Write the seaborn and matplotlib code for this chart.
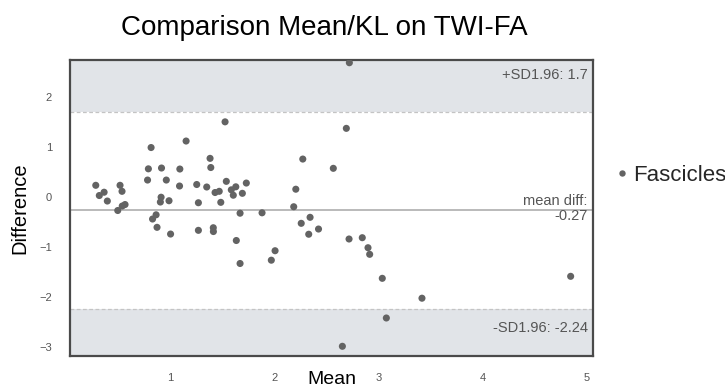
import matplotlib
matplotlib.use("Agg")
import matplotlib.pyplot as plt
import seaborn as sns
import pandas as pd

# Bland-Altman data
mean_vals = [0.287, 0.321, 0.367, 0.398, 0.520, 0.539, 0.498, 0.541, 0.568,
             0.818, 0.792, 0.784, 0.918, 0.964, 0.914, 0.907, 0.990, 1.154,
             1.094, 1.091, 1.256, 1.272, 0.866, 0.832, 0.875, 1.005, 1.272,
             1.528, 1.384, 1.391, 1.352, 1.432, 1.472, 1.540, 1.588, 1.631,
             1.607, 1.694, 1.732, 1.487, 1.672, 1.883, 1.415, 1.416, 1.636,
             1.672, 2.008, 1.972, 2.274, 2.207, 2.187, 2.259, 2.344, 2.331,
             2.425, 2.721, 2.692, 2.567, 2.718, 2.845, 2.900, 2.916, 3.037,
             3.418, 3.076, 2.654, 4.845]
diff_vals = [0.228, 0.024, 0.090, -0.086, 0.228, 0.108, -0.275, -0.186, -0.156,
             0.982, 0.557, 0.333, 0.573, 0.333, -0.010, -0.106, -0.080, 1.112,
             0.553, 0.214, 0.244, -0.120, -0.361, -0.445, -0.611, -0.745, -0.671,
             1.495, 0.766, 0.583, 0.194, 0.084, 0.108, 0.307, 0.138, 0.198,
             0.030, 0.068, 0.273, -0.112, -0.329, -0.321, -0.619, -0.695, -0.874,
             -1.333, -1.078, -1.267, 0.752, 0.150, -0.200, -0.531, -0.411, -0.749,
             -0.645, 2.675, 1.365, 0.567, -0.844, -0.818, -1.018, -1.150, -1.629,
             -2.026, -2.421, -2.986, -1.589]
group_name = "Fascicles"
mean_diff = -0.27
upper_loa = 1.7
lower_loa = -2.24
x_ticks = [1, 2, 3, 4, 5]
y_ticks = [-3, -2, -1, 0, 1, 2]
title = "Comparison Mean/KL on TWI-FA"

sns.set_style("white")
plt.rcParams['font.family'] = ['Liberation Sans', 'DejaVu Sans']

fig = plt.figure(figsize=(7.25, 3.89), dpi=100)
ax = fig.add_axes([0.0966, 0.0848, 0.7214, 0.761])

df = pd.DataFrame({"Mean": mean_vals, "Difference": diff_vals,
                   "Group": [group_name] * len(mean_vals)})

xlim = (0.04, 5.06)
ylim = (-3.18, 2.73)
shade = '#e1e4e8'
ax.axhspan(upper_loa, ylim[1], color=shade, zorder=0, lw=0)
ax.axhspan(ylim[0], lower_loa, color=shade, zorder=0, lw=0)
ax.axhline(upper_loa, color='#c4c4c4', ls=(0, (3, 2)), lw=0.9, zorder=1)
ax.axhline(lower_loa, color='#c4c4c4', ls=(0, (3, 2)), lw=0.9, zorder=1)
ax.axhline(mean_diff, color='#b4b4b4', lw=1.3, zorder=1)

sns.scatterplot(data=df, x="Mean", y="Difference", hue="Group",
                palette=['#636363'], s=26, edgecolor='none', ax=ax, zorder=3)

ax.set_xlim(*xlim)
ax.set_ylim(*ylim)
ax.set_xticks(x_ticks)
ax.set_yticks(y_ticks)
ax.set_xticklabels([str(t) for t in x_ticks])
ax.set_yticklabels([("\u2212" + str(-t)) if t < 0 else str(t) for t in y_ticks])
ax.tick_params(axis='both', length=0, labelsize=8, labelcolor='#555555')
ax.tick_params(axis='x', pad=12)
ax.tick_params(axis='y', pad=13)

for sp in ax.spines.values():
    sp.set_color('#4a4a4a')
    sp.set_linewidth(1.6)

ax.set_xlabel("Mean", fontsize=14, color='black')
ax.set_ylabel("Difference", fontsize=14.5, color='black')
ax.xaxis.set_label_coords(0.5, -0.052)
ax.yaxis.set_label_coords(-0.078, 0.5)

fig.text(0.447, 0.928, title, fontsize=20, ha='center', va='center', color='black')

tcol = '#555555'
fs = 10.5
ax.text(0.990, 2.43, "+SD1.96: " + str(upper_loa), transform=ax.get_yaxis_transform(),
        ha='right', va='center', fontsize=fs, color=tcol)
ax.text(0.990, -0.08, "mean diff:", transform=ax.get_yaxis_transform(),
        ha='right', va='center', fontsize=fs, color=tcol)
ax.text(0.990, -0.39, f"{mean_diff:.2f}", transform=ax.get_yaxis_transform(),
        ha='right', va='center', fontsize=fs, color=tcol)
ax.text(0.990, -2.62, "-SD1.96: " + str(lower_loa), transform=ax.get_yaxis_transform(),
        ha='right', va='center', fontsize=fs, color=tcol)

leg = ax.legend(loc='center left', bbox_to_anchor=(1.034, 0.61), frameon=False,
                fontsize=16, handletextpad=0.0, handlelength=1.0,
                markerscale=0.9, borderaxespad=0, borderpad=0)
for h in leg.legend_handles:
    h.set_color('#7a7a7a')

fig.savefig("out.png", dpi=100)
